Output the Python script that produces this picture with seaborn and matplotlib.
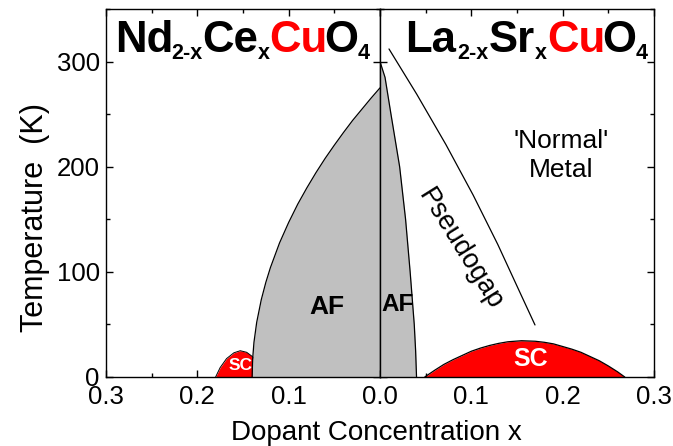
import numpy as np
import pandas as pd
import matplotlib
matplotlib.use("Agg")
import matplotlib.pyplot as plt
from matplotlib.ticker import MultipleLocator, FixedLocator, FixedFormatter
from matplotlib.transforms import offset_copy
from matplotlib.textpath import TextPath
from matplotlib.font_manager import FontProperties
import seaborn as sns

# ---------------- data ----------------
# Nd2-xCexCuO4 (electron doped, plotted to the left; x = |dopant|)
ncco_af_x = [0.000, 0.010, 0.020, 0.030, 0.040, 0.050, 0.060, 0.070, 0.080, 0.090,
             0.100, 0.110, 0.120, 0.125, 0.130, 0.135, 0.138, 0.1395, 0.140]
ncco_af_T = [275, 265, 254.5, 244, 232.5, 220.5, 208, 194.5, 180, 164.5,
             147, 127.5, 104, 90, 73.5, 52, 33, 16.5, 0]
ncco_sc_x = [0.126, 0.132, 0.139, 0.146, 0.153, 0.160, 0.168, 0.175, 0.180]
ncco_sc_T = [0, 11, 19, 23.5, 25, 23, 17.5, 9, 0]

# La2-xSrxCuO4 (hole doped, plotted to the right)
lsco_af_x = [0.000, 0.0055, 0.012, 0.0215, 0.028, 0.033, 0.0375, 0.039, 0.040]
lsco_af_T = [300, 285, 250, 200, 150, 100, 50, 25, 0]
lsco_sc_x = [0.049, 0.060, 0.070, 0.080, 0.090, 0.100, 0.110, 0.120, 0.130, 0.140, 0.155,
             0.170, 0.180, 0.190, 0.200, 0.210, 0.220, 0.230, 0.240, 0.250, 0.260, 0.268]
lsco_sc_T = [0, 6.5, 12, 16.5, 20.5, 24.5, 27.5, 30, 32, 33.5, 34.5,
             34, 33, 31.5, 29, 26.5, 23.5, 19.5, 15.5, 10.5, 5, 0]
pg_x = [0.00985, 0.0402, 0.0722, 0.1020, 0.1290, 0.1545, 0.1697]
pg_T = [312, 269, 221, 173, 126, 78, 49.5]

x_ticks = [0.0, 0.1, 0.2, 0.3]
left_tick_labels = ["", "0.1", "0.2", "0.3"]
right_tick_labels = ["0.0", "0.1", "0.2", "0.3"]
y_ticks = [0, 100, 200, 300]

# ---------------- style ----------------
sns.set_theme(style="ticks")
plt.rcParams['font.family'] = ['Liberation Sans', 'DejaVu Sans']
plt.rcParams.update({
    'axes.linewidth': 1.0, 'text.color': 'black', 'axes.labelcolor': 'black',
    'xtick.color': 'black', 'ytick.color': 'black', 'axes.edgecolor': 'black',
})

RED = "#ff0000"
GRAY = "#c0c0c0"

fig = plt.figure(figsize=(6.73, 4.46), dpi=100)
L, B, W, H = 106 / 673, 1 - 377 / 446, 274 / 673, 368 / 446
axL = fig.add_axes([L, B, W, H])
axR = fig.add_axes([L + W, B, W, H])

for ax in (axL, axR):
    ax.set_facecolor("white")
    ax.set_ylim(0, 350)
    for s in ax.spines.values():
        s.set_color("black")
        s.set_linewidth(1.0)
        s.set_zorder(5)
    ax.xaxis.set_major_locator(FixedLocator(x_ticks))
    ax.xaxis.set_minor_locator(MultipleLocator(0.05))
    ax.yaxis.set_major_locator(FixedLocator(y_ticks))
    ax.yaxis.set_minor_locator(MultipleLocator(50))
    ax.tick_params(which="both", direction="in", top=True, bottom=True,
                   left=True, right=True, color="black", width=1.0)
    ax.tick_params(which="major", length=4.7, labelsize=18.5, labelcolor="black")
    ax.tick_params(which="minor", length=2.6)
    ax.tick_params(axis="x", pad=6)
    ax.set_xlabel("")
    ax.set_ylabel("")

axL.set_xlim(0.3, 0.0)
axR.set_xlim(0.0, 0.3)
axL.xaxis.set_major_formatter(FixedFormatter(left_tick_labels))
axR.xaxis.set_major_formatter(FixedFormatter(right_tick_labels))
axR.tick_params(labelleft=False)
axL.tick_params(axis="y", pad=4.5)

# ---------------- NCCO panel ----------------
axL.fill_between(ncco_sc_x, ncco_sc_T, 0, color=RED, lw=0, zorder=1)
sns.lineplot(x=ncco_sc_x, y=ncco_sc_T, sort=False, color="black", lw=0.7, ax=axL, zorder=1.5)
axL.fill_between(ncco_af_x, ncco_af_T, 0, color=GRAY, lw=0, zorder=2)
sns.lineplot(x=ncco_af_x, y=ncco_af_T, sort=False, color="black", lw=0.9, ax=axL, zorder=2.5)

# ---------------- LSCO panel ----------------
axR.fill_between(lsco_af_x, lsco_af_T, 0, color=GRAY, lw=0, zorder=2)
sns.lineplot(x=lsco_af_x, y=lsco_af_T, sort=False, color="black", lw=0.9, ax=axR, zorder=2.5)
axR.fill_between(lsco_sc_x, lsco_sc_T, 0, color=RED, lw=0, zorder=2)
sns.lineplot(x=lsco_sc_x, y=lsco_sc_T, sort=False, color="black", lw=0.9, ax=axR, zorder=2.5)
sns.lineplot(x=pg_x, y=pg_T, sort=False, color="black", lw=0.9, ax=axR, zorder=2.5)

# ---------------- labels in panels ----------------
axL.text(0.058, 67, "AF", fontsize=19, fontweight="bold", ha="center", va="center", zorder=6)
axL.text(0.153, 11, "SC", fontsize=12.5, fontweight="bold", color="white", ha="center", va="center", zorder=6)
axR.text(0.0195, 69, "AF", fontsize=17.5, fontweight="bold", ha="center", va="center", zorder=6)
axR.text(0.165, 17, "SC", fontsize=18, fontweight="bold", color="white", ha="center", va="center", zorder=6)
axR.text(0.198, 211, "'Normal'\nMetal", fontsize=19, ha="center", va="center", linespacing=1.25, zorder=6)
axR.text(0.088, 121, "Pseudogap", fontsize=19.5, rotation=-58, rotation_mode="anchor",
         ha="center", va="center", zorder=6)

# ---------------- chemical formulas ----------------
bold_fp = FontProperties(family="Liberation Sans", weight="bold")


def ink_ext(s, size):
    ext = TextPath((0, 0), s, size=size, prop=bold_fp).get_extents()
    return ext.x0, ext.x1


def formula(ax, x, y, pieces, main=31.5, sub=15.5, sub_dy=-5.2, gap=1.1):
    dx = 0.0  # ink-left position (points) of the next piece
    for txt, color, is_sub in pieces:
        size = sub if is_sub else main
        x0, x1 = ink_ext(txt, size)
        tr = offset_copy(ax.transAxes, fig=fig, x=dx - x0, y=(sub_dy if is_sub else 0.0), units="points")
        ax.text(x, y, txt, transform=tr, fontsize=size,
                fontweight="bold", color=color, ha="left", va="baseline", zorder=6)
        dx += (x1 - x0) + gap


formula(axL, (118 - 106) / 274, (377 - 52) / 368,
        [("Nd", "black", False), ("2-x", "black", True), ("Ce", "black", False),
         ("x", "black", True), ("Cu", RED, False), ("O", "black", False), ("4", "black", True)])
formula(axR, (408 - 380) / 274, (377 - 52) / 368,
        [("La", "black", False), ("2-x", "black", True), ("Sr", "black", False),
         ("x", "black", True), ("Cu", RED, False), ("O", "black", False), ("4", "black", True)])

# ---------------- axis titles ----------------
fig.text(376 / 673, 1 - 440 / 446, "Dopant Concentration x", fontsize=20,
         ha="center", va="baseline")
fig.text(35 / 673, 1 - 217.5 / 446, "Temperature  (K)", fontsize=22, rotation=90,
         ha="center", va="center")

fig.savefig("out.png", dpi=100)
